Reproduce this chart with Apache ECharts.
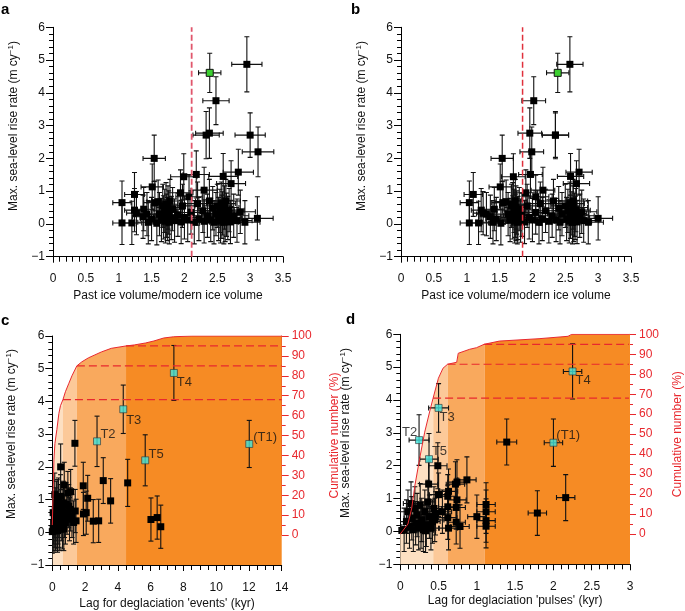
<!DOCTYPE html>
<html><head><meta charset="utf-8">
<script src="https://cdn.jsdelivr.net/npm/echarts@6/dist/echarts.min.js"></script>
<style>html,body{margin:0;padding:0;background:#fff}#c{width:685px;height:611px}</style>
</head><body><div id="c"></div><script>
// ---------------- DATA ----------------
// Panels a & b: [rate, rateErr, volumeA, volumeAErr, volumeB, volumeBErr]
const abPoints = [
 [4.87,0.84,2.95,0.23,2.57,0.2],[3.76,0.73,2.48,0.2,2.02,0.18],[2.77,0.77,2.38,0.21,1.96,0.18],
 [2.71,0.72,2.33,0.2,2.35,0.2],[2.71,0.68,3.0,0.23,2.35,0.2],[2.2,0.76,3.12,0.24,1.99,0.18],
 [2.0,0.71,1.54,0.17,1.54,0.17],[1.51,0.72,2.18,0.2,1.97,0.18],[1.58,0.7,2.82,0.23,2.71,0.2],
 [1.44,0.7,1.99,0.2,1.71,0.18],[1.45,0.7,2.59,0.22,2.58,0.2],[1.23,0.7,2.71,0.22,2.67,0.2],
 [1.13,0.7,1.51,0.17,1.51,0.17],[1.03,0.7,2.3,0.2,2.16,0.18],[0.95,0.7,1.94,0.19,1.9,0.18],
 [0.9,0.67,1.24,0.15,1.1,0.14],[0.65,0.66,1.05,0.14,1.04,0.14],[0.03,0.66,1.05,0.14,1.04,0.14],
 [0.03,0.66,1.2,0.15,1.18,0.15],[0.65,0.66,1.55,0.17,1.55,0.17],[0.33,0.66,1.27,0.15,1.25,0.15],
 [0.17,0.66,3.11,0.24,3.0,0.22],
 [0.42,0.66,1.24,0.15,1.22,0.15],[0.22,0.66,1.37,0.16,1.36,0.16],[0.45,0.66,1.38,0.16,1.42,0.16],
 [0.05,0.66,1.45,0.16,1.4,0.16],[0.68,0.66,1.6,0.17,1.6,0.17],[0.3,0.66,1.62,0.17,1.63,0.17],
 [0.12,0.66,1.65,0.17,1.66,0.17],[0.55,0.66,1.67,0.18,1.68,0.18],[0.2,0.66,1.68,0.18,1.7,0.18],
 [0.4,0.66,1.7,0.18,1.72,0.18],[0.08,0.66,1.71,0.18,1.73,0.18],[0.6,0.66,1.72,0.18,1.7,0.18],
 [0.25,0.66,1.73,0.18,1.74,0.18],[0.15,0.66,1.74,0.18,1.75,0.18],[0.5,0.66,1.75,0.18,1.75,0.18],
 [0.35,0.66,1.76,0.18,1.76,0.18],[0.05,0.66,1.77,0.18,1.77,0.18],[0.7,0.66,1.78,0.18,1.74,0.18],
 [0.18,0.66,1.8,0.18,1.78,0.18],[0.45,0.66,1.82,0.18,1.8,0.18],[0.1,0.66,1.85,0.19,1.82,0.18],
 [0.28,0.66,1.9,0.19,1.84,0.19],[0.06,0.66,1.95,0.19,1.88,0.19],[0.55,0.66,1.97,0.19,1.92,0.19],
 [0.2,0.66,2.0,0.2,1.95,0.19],[0.83,0.66,2.07,0.2,2.05,0.2],[0.12,0.66,2.05,0.2,2.0,0.2],
 [0.35,0.66,2.1,0.2,2.05,0.2],[0.05,0.66,2.15,0.2,2.1,0.2],[0.62,0.66,2.2,0.2,2.12,0.2],
 [0.15,0.66,2.22,0.2,2.15,0.2],[0.4,0.66,2.28,0.21,2.2,0.2],[0.08,0.66,2.3,0.21,2.25,0.21],
 [0.25,0.66,2.35,0.21,2.3,0.21],[0.7,0.66,2.38,0.21,2.32,0.21],[0.12,0.66,2.4,0.21,2.36,0.21],
 [0.48,0.66,2.43,0.22,2.4,0.21],[0.05,0.66,2.45,0.22,2.42,0.21],[0.3,0.66,2.48,0.22,2.45,0.22],
 [0.55,0.66,2.5,0.22,2.5,0.22],[0.15,0.66,2.52,0.22,2.52,0.22],[0.4,0.66,2.54,0.22,2.54,0.22],
 [0.08,0.66,2.55,0.22,2.56,0.22],[0.62,0.66,2.56,0.22,2.57,0.22],[0.22,0.66,2.57,0.22,2.58,0.22],
 [0.32,0.66,2.58,0.22,2.6,0.22],[0.05,0.66,2.6,0.22,2.61,0.22],[0.5,0.66,2.61,0.22,2.62,0.22],
 [0.12,0.66,2.62,0.22,2.63,0.22],[0.7,0.66,2.63,0.22,2.62,0.22],[0.28,0.66,2.64,0.22,2.64,0.22],
 [0.18,0.66,2.66,0.22,2.65,0.22],[0.42,0.66,2.68,0.23,2.66,0.22],[0.06,0.66,2.7,0.23,2.68,0.22],
 [0.25,0.66,2.75,0.23,2.72,0.22],[0.37,0.66,2.85,0.23,2.75,0.23],[0.1,0.66,2.8,0.23,2.78,0.23],
 [0.05,0.66,2.92,0.23,2.85,0.23],[0.3,0.66,1.43,0.16,1.3,0.15],[0.15,0.66,1.5,0.17,1.45,0.16],
 [0.02,0.66,1.58,0.17,1.52,0.17]
];
// Highlighted (green) point in a & b: [rate, rateErr, volumeA, volumeAErr, volumeB, volumeBErr]
const abGreen = [[4.61,0.6,2.385,0.17,2.385,0.17]];
const thresholdA = 2.11;
const thresholdB = 1.85;

// Named terminations (cyan) in c & d: [name, rate, rateErr, lagEvents, lagPulses, lagPulsesErr]
const tPoints = [
 ['T4',4.87,0.84,7.42,2.25,0.12],['T3',3.76,0.74,4.33,0.5,0.13],['T2',2.78,0.77,2.73,0.245,0.13],
 ['T5',2.2,0.78,5.67,0.375,0.12],['(T1)',2.7,0.72,12.02,2.0,0.12]
];
// Panel c black points: [lag, rate, rateErr]
const cPoints = [
 [1.38,2.72,0.7],[0.51,2.0,0.7],[0.73,1.44,0.7],[1.89,1.42,0.72],[3.11,1.58,0.7],[4.6,1.51,0.72],
 [2.16,1.04,0.7],[3.56,0.96,0.68],[1.9,0.56,0.66],[2.07,0.6,0.66],[2.5,0.34,0.66],[2.83,0.35,0.66],
 [6.02,0.39,0.66],[6.4,0.45,0.66],[6.62,0.17,0.66],[1.12,1.24,0.68],
 [0.0,0.02,0.66],[0.05,0.1,0.66],[0.08,0.3,0.66],[0.1,0.05,0.66],[0.12,0.5,0.66],[0.15,0.2,0.66],
 [0.18,0.7,0.66],[0.2,0.1,0.66],[0.22,0.4,0.66],[0.25,0.9,0.66],[0.28,0.15,0.66],[0.3,0.6,0.66],
 [0.32,0.05,0.66],[0.35,0.3,0.66],[0.38,1.0,0.66],[0.4,0.5,0.66],[0.42,0.2,0.66],[0.45,0.1,0.66],
 [0.48,0.8,0.66],[0.5,1.1,0.66],[0.55,0.4,0.66],[0.6,0.65,0.66],[0.62,0.15,0.66],[0.68,0.9,0.66],
 [0.75,0.5,0.66],[0.8,0.3,0.66],[0.85,0.85,0.66],[0.9,0.6,0.66],[0.95,1.2,0.66],[1.0,0.8,0.66],
 [1.05,0.4,0.66],[1.1,0.7,0.66],[1.2,0.5,0.66],[1.3,0.3,0.66],[1.4,0.65,0.66],[1.45,0.35,0.66],
 [0.7,0.1,0.66],[0.15,1.15,0.66],[0.05,0.6,0.66],[0.3,0.95,0.66]
];
// Panel d black points: [lag, rate, lagErr, rateErr]
const dPoints = [
 [1.39,2.72,0.13,0.7],[1.79,0.56,0.12,0.68],[2.16,1.03,0.12,0.7],[0.49,2.0,0.12,0.7],
 [0.37,1.44,0.12,0.7],[0.87,1.57,0.12,0.7],[0.74,1.5,0.12,0.68],[0.72,1.44,0.12,0.68],
 [0.63,1.22,0.12,0.68],[0.62,1.07,0.12,0.66],[0.74,0.96,0.12,0.66],[0.73,0.73,0.12,0.66],
 [0.62,0.75,0.12,0.66],[1.0,0.45,0.12,0.66],[1.12,0.82,0.12,0.66],[1.12,0.6,0.12,0.66],
 [1.12,0.33,0.12,0.66],[1.12,0.16,0.12,0.66],[0.78,0.15,0.12,0.66],[0.63,0.1,0.12,0.66],
 [0.73,0.28,0.12,0.66],[0.62,0.42,0.12,0.66],[0.55,0.6,0.12,0.66],[0.5,1.12,0.12,0.66],
 [0.45,0.35,0.12,0.66],
 [0.02,0.03,0.12,0.0],[0.05,0.05,0.1,0.66],[0.08,0.3,0.1,0.66],[0.1,0.6,0.1,0.66],[0.12,0.15,0.1,0.66],
 [0.15,0.4,0.1,0.66],[0.17,0.05,0.1,0.66],[0.19,0.7,0.1,0.66],[0.2,0.25,0.1,0.66],[0.22,0.5,0.1,0.66],
 [0.24,0.1,0.1,0.66],[0.26,0.8,0.1,0.66],[0.28,0.35,0.1,0.66],[0.3,0.05,0.1,0.66],[0.32,0.6,0.1,0.66],
 [0.34,0.2,0.1,0.66],[0.36,0.9,0.1,0.66],[0.38,0.45,0.1,0.66],[0.4,0.1,0.1,0.66],[0.42,0.3,0.1,0.66],
 [0.44,0.7,0.1,0.66],[0.14,0.85,0.1,0.66],[0.27,0.15,0.1,0.66],[0.33,0.02,0.1,0.66],[0.46,0.55,0.1,0.66]
];
// Cumulative number curves: lag (kyr) and cumulative %
const cumLagC = [0,0.03,0.06,0.1,0.16,0.28,0.4,0.5,0.65,0.8,1.0,1.2,1.5,1.8,2.2,2.6,3.0,3.6,4.5,5.0,5.7,6.2,6.8,7.4,8.5,14];
const cumPctC = [5,15,24,38,46,53,61,65,68,72,76,80,85,87,89,90.5,92,93.8,95,95.5,96.5,97.5,99,99.6,100,100];
const cumLagD = [0,0.1,0.15,0.19,0.26,0.32,0.39,0.43,0.5,0.56,0.62,0.74,0.76,0.91,1.0,1.1,1.12,1.3,1.82,2.2,2.25,3];
const cumPctD = [0,5,13,24,39,51,62,68,78,83,85,86,90.5,92.5,93.3,95,96,96.6,97.8,99,100,100];
// Percentile levels and the lags where they are reached
const levelPct = [68,85,95];
const levelLagC = [0.65,1.5,4.5];
const levelLagD = [0.43,0.62,1.1];

// ---------------- STYLE ----------------
const FONT = 'Liberation Sans, Arial, Helvetica, sans-serif';
const RED = '#e8282e';
const bandColors = ['#fde0c2','#fcc999','#f9a95d','#f68b24'];
const labelOffC = {T4:['right',[-1,9]],T3:['right',[-1,11]],T2:['right',[-0.5,-7]],T5:['right',[-0.5,-6]],'(T1)':['right',[0,-7]]};
const labelOffD = {T4:['right',[-1,9]],T3:['right',[-3,10]],T2:['left',[2,-8]],T5:['right',[-1,-8]],'(T1)':['right',[-1,-7]]};

function xAx(grid, min, max, interval, split, name, gap, margin){
  return {type:'value', gridIndex:grid, min:min, max:max, interval:interval,
    axisLine:{show:true,onZero:false,lineStyle:{color:'#000',width:1}},
    axisTick:{show:true,inside:false,length:6,lineStyle:{color:'#000'}},
    minorTick:{show:true,splitNumber:split,length:5,lineStyle:{color:'#000'}},
    splitLine:{show:false}, minorSplitLine:{show:false},
    axisLabel:{color:'#111',fontSize:12,fontFamily:FONT,margin:margin},
    name:name, nameLocation:'middle', nameGap:gap,
    nameTextStyle:{color:'#111',fontSize:12,fontFamily:FONT}};
}
function yAx(grid){
  return {type:'value', gridIndex:grid, min:-1, max:6, interval:1,
    axisLine:{show:true,onZero:false,lineStyle:{color:'#000',width:1}},
    axisTick:{show:true,inside:false,length:7,lineStyle:{color:'#000'}},
    minorTick:{show:true,splitNumber:5,length:4,lineStyle:{color:'#000'}},
    splitLine:{show:false}, minorSplitLine:{show:false},
    axisLabel:{color:'#111',fontSize:12,fontFamily:FONT,margin:8,
      formatter:function(v){return String(v).replace('-','\u2212');}}};
}
function hiddenAx(grid, min, max){
  return {type:'value', gridIndex:grid, min:min, max:max, show:false, splitLine:{show:false}};
}
function cumAx(grid, gap){
  return {type:'value', gridIndex:grid, position:'right', min:0, max:100, interval:10,
    axisLine:{show:true,onZero:false,lineStyle:{color:RED,width:1}},
    axisTick:{show:true,inside:false,length:7,lineStyle:{color:RED}},
    minorTick:{show:true,splitNumber:2,length:4,lineStyle:{color:RED}},
    splitLine:{show:false}, minorSplitLine:{show:false},
    axisLabel:{color:RED,fontSize:12,fontFamily:FONT,margin:10},
    name:'Cumulative number (%)', nameLocation:'middle', nameGap:gap, nameRotate:90,
    nameTextStyle:{color:RED,fontSize:12,fontFamily:FONT}};
}

// error bar custom series: data rows [x, y, xErr, yErr]
function errBars(xi, yi, rows){
  return {type:'custom', xAxisIndex:xi, yAxisIndex:yi, clip:true, z:3, silent:true,
    data: rows,
    renderItem: function(params, api){
      const x=api.value(0), y=api.value(1), xe=api.value(2), ye=api.value(3);
      const c=api.coord([x,y]); const ch=[]; const st={stroke:'#111',lineWidth:1.1};
      const cap=2.5;
      if(ye>0){
        const t=api.coord([x,y+ye]), b=api.coord([x,y-ye]);
        ch.push({type:'line',shape:{x1:c[0],y1:t[1],x2:c[0],y2:b[1]},style:st});
        ch.push({type:'line',shape:{x1:c[0]-cap,y1:t[1],x2:c[0]+cap,y2:t[1]},style:st});
        ch.push({type:'line',shape:{x1:c[0]-cap,y1:b[1],x2:c[0]+cap,y2:b[1]},style:st});
      }
      if(xe>0){
        const l=api.coord([x-xe,y]), r=api.coord([x+xe,y]);
        ch.push({type:'line',shape:{x1:l[0],y1:c[1],x2:r[0],y2:c[1]},style:st});
        ch.push({type:'line',shape:{x1:l[0],y1:c[1]-cap,x2:l[0],y2:c[1]+cap},style:st});
        ch.push({type:'line',shape:{x1:r[0],y1:c[1]-cap,x2:r[0],y2:c[1]+cap},style:st});
      }
      return {type:'group',children:ch};
    }};
}
function marks(xi, yi, pts, color, z){
  return {type:'scatter', xAxisIndex:xi, yAxisIndex:yi, symbol:'rect', symbolSize:7, z:z||4, silent:true,
    itemStyle:{color:color, borderColor:'#111', borderWidth:color==='#000'?0:1, opacity:1}, data:pts};
}
function vline(xi, yi, x, color, w){
  return {type:'line', xAxisIndex:xi, yAxisIndex:yi, z:5, symbol:'none', silent:true,
    lineStyle:{color:color,width:w,type:[6,3]}, data:[[x,-1],[x,6]]};
}
function bands(xi, yi, lags, pcts, levels){
  const edges=[0].concat(levels).concat([lags[lags.length-1]]);
  const out=[];
  for(let i=0;i<4;i++){
    const d=[]; for(let k=0;k<lags.length;k++){ if(lags[k]>=edges[i]-1e-9 && lags[k]<=edges[i+1]+1e-9) d.push([lags[k],pcts[k]]); }
    out.push({type:'line', xAxisIndex:xi, yAxisIndex:yi, z:1, symbol:'none', silent:true,
      lineStyle:{width:0,opacity:0}, areaStyle:{color:bandColors[i],opacity:1,origin:'start'}, data:d});
  }
  return out;
}
function cumLine(xi, yi, lags, pcts){
  return {type:'line', xAxisIndex:xi, yAxisIndex:yi, z:6, symbol:'none', silent:true,
    lineStyle:{color:RED,width:1}, data:lags.map((l,k)=>[l,pcts[k]])};
}
function dashLevels(xi, yi, levelLags, xmax){
  return levelPct.map((p,i)=>({type:'line', xAxisIndex:xi, yAxisIndex:yi, z:6, symbol:'none', silent:true,
    lineStyle:{color:RED,width:1.2,type:[8,4]}, data:[[levelLags[i],p],[xmax,p]]}));
}
function tMarks(xi, yi, rows, offs){
  return {type:'scatter', xAxisIndex:xi, yAxisIndex:yi, symbol:'rect', symbolSize:7, z:5, silent:true,
    itemStyle:{color:'#3fe3dc',borderColor:'#333',borderWidth:0.8},
    data: rows.map(r=>({value:[r[0],r[1]], label:{show:true, position:offs[r[2]][0], distance:0,
      offset:offs[r[2]][1], formatter:r[2], color:'#111', fontSize:13, fontFamily:FONT}}))};
}

const chart = echarts.init(document.getElementById('c'), null, {renderer:'canvas'});
const series = [];
// a
series.push(vline(0,0,thresholdA,'#e0566c',1.8));
series.push(errBars(0,0, abPoints.map(r=>[r[2],r[0],r[3],r[1]])));
series.push(errBars(0,0, abGreen.map(r=>[r[2],r[0],r[3],r[1]])));
series.push(marks(0,0, abPoints.map(r=>[r[2],r[0]]),'#000'));
series.push(marks(0,0, abGreen.map(r=>[r[2],r[0]]),'#3ccf30',6));
// b
series.push(vline(1,1,thresholdB,'#e0303c',1.5));
series.push(errBars(1,1, abPoints.map(r=>[r[4],r[0],r[5],r[1]])));
series.push(errBars(1,1, abGreen.map(r=>[r[4],r[0],r[5],r[1]])));
series.push(marks(1,1, abPoints.map(r=>[r[4],r[0]]),'#000'));
series.push(marks(1,1, abGreen.map(r=>[r[4],r[0]]),'#3ccf30',6));
// c
bands(2,4,cumLagC,cumPctC,levelLagC).forEach(s=>series.push(s));
series.push(cumLine(4,6,cumLagC,cumPctC));
dashLevels(4,6,levelLagC,14).forEach(s=>series.push(s));
series.push(errBars(2,2, cPoints.map(r=>[r[0],r[1],0,r[2]])));
series.push(errBars(2,2, tPoints.map(r=>[r[3],r[1],0,r[2]])));
series.push(marks(2,2, cPoints.map(r=>[r[0],r[1]]),'#000'));
series.push(tMarks(2,2, tPoints.map(r=>[r[3],r[1],r[0]]), labelOffC));
// d
bands(3,5,cumLagD,cumPctD,levelLagD).forEach(s=>series.push(s));
series.push(cumLine(5,7,cumLagD,cumPctD));
dashLevels(5,7,levelLagD,3).forEach(s=>series.push(s));
series.push(errBars(3,3, dPoints.map(r=>[r[0],r[1],r[2],r[3]])));
series.push(errBars(3,3, tPoints.map(r=>[r[4],r[1],r[5],r[2]])));
series.push(marks(3,3, dPoints.map(r=>[r[0],r[1]]),'#000'));
series.push(tMarks(3,3, tPoints.map(r=>[r[4],r[1],r[0]]), labelOffD));

const ytitle = 'Max. sea-level rise rate (m cy{s|\u22121})';
function ytext(x,y){
  return {type:'text', x:x, y:y, rotation:Math.PI/2, silent:true,
    style:{text:ytitle, fill:'#111', font:'12px '+FONT, align:'center', verticalAlign:'middle',
      rich:{s:{fontSize:8, fontFamily:FONT, fill:'#111', padding:[0,0,7,0]}}}};
}
function letter(t,x,y){
  return {type:'text', x:x, y:y, silent:true, style:{text:t, fill:'#000', font:'bold 15px '+FONT, verticalAlign:'top'}};
}

chart.setOption({
  animation:false,
  backgroundColor:'#fff',
  grid:[
    {left:53, top:27.3, width:230, height:229.4},
    {left:401, top:27.3, width:230, height:229.4},
    {left:52.3, top:336, width:229.4, height:229},
    {left:400.3, top:334.3, width:229.7, height:230},
    {left:52.3, top:336, width:229.4, height:199},
    {left:400.3, top:334.3, width:229.7, height:199.7}
  ],
  xAxis:[
    xAx(0,0,3.5,0.5,5,'Past ice volume/modern ice volume',33,16),
    xAx(1,0,3.5,0.5,5,'Past ice volume/modern ice volume',33,16),
    xAx(2,0,14,2,4,"Lag for deglaciation 'events' (kyr)",33,17),
    xAx(3,0,3,0.5,5,"Lag for deglaciation 'pulses' (kyr)",30,16),
    hiddenAx(4,0,14),
    hiddenAx(5,0,3)
  ],
  yAxis:[
    yAx(0), yAx(1), yAx(2), yAx(3),
    Object.assign(hiddenAx(2,-15,100),{position:'right'}),
    Object.assign(hiddenAx(3,-15,100),{position:'right'}),
    cumAx(4,47), cumAx(5,43)
  ],
  graphic:[
    letter('a',1,2), letter('b',351,2), letter('c',1,313), letter('d',346,312),
    ytext(14,126), ytext(362,126), ytext(12,434), ytext(346,433)
  ],
  series: series
});
</script></body></html>
